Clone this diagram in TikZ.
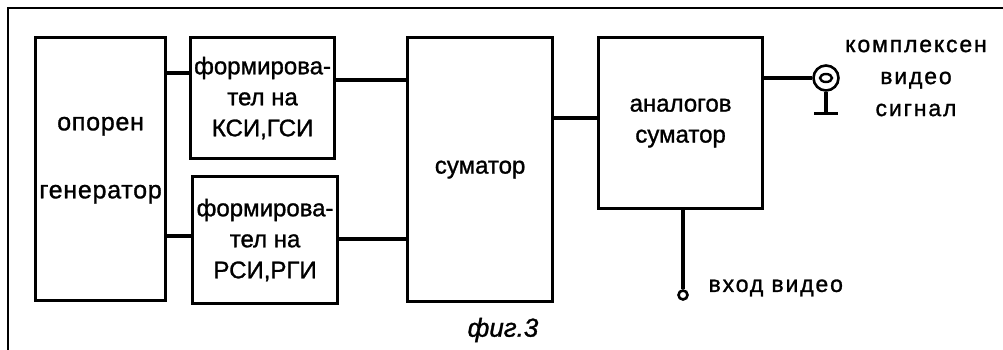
\documentclass[tikz,border=0pt]{standalone}
\usepackage{fontspec}
\setmainfont[FakeBold=1.2]{Liberation Sans}
\usetikzlibrary{positioning}
\begin{document}
\begin{tikzpicture}[x=1pt, y=-1pt, line width=3.2pt,
        block/.style={draw, anchor=north west, align=center, font=\fontsize{24}{31}\selectfont, inner sep=0pt},
        lbl/.style={font=\fontsize{23}{32}\selectfont\addfontfeature{LetterSpace=8}, align=center, inner sep=0pt}]
        \useasboundingbox (0,0) rectangle (1003,350);
        \draw[line width=2pt] (8,350) -- (8,8) -- (1003,8);
        % blocks
        \node[block, minimum width=130pt, minimum height=263pt, text depth=23pt, font=\fontsize{25}{31}\selectfont\addfontfeature{LetterSpace=3}] (gen) at (34,36) {опорен\\[37pt]генератор};
        \node[block, minimum width=144pt, minimum height=121pt] (form1) at (189,36) {формирова-\\тел на\\КСИ,ГСИ};
        \node[block, minimum width=145pt, minimum height=127pt] (form2) at (191,175) {формирова-\\тел на\\РСИ,РГИ};
        \node[block, minimum width=145pt, minimum height=264pt] (sum) at (406,36) {суматор};
        \node[block, minimum width=164pt, minimum height=171pt] (an) at (597,36) {аналогов\\суматор};
        % wire levels
        \coordinate (w1) at (0,73);
        \coordinate (w2) at (0,236);
        \coordinate (w3) at (0,80);
        \coordinate (w4) at (0,239);
        \coordinate (w5) at (0,118);
        \draw (gen.east |- w1) -- (form1.west |- w1);
        \draw (gen.east |- w2) -- (form2.west |- w2);
        \draw (form1.east |- w3) -- (sum.west |- w3);
        \draw (form2.east |- w4) -- (sum.west |- w4);
        \draw (sum.east |- w5) -- (an.west |- w5);
        % output jack
        \node[circle, draw, line width=2.6pt, minimum size=25pt, inner sep=0pt] (jack) at (826,78) {};
        \draw (an.east |- jack) -- (jack.west);
        \draw[line width=2.4pt] (jack.center) ellipse (6pt and 4pt);
        \draw (jack.south) -- ++(0,22) coordinate (gnd);
        \draw ([xshift=-12pt]gnd) -- ([xshift=12pt]gnd);
        \node[lbl] (outtxt) at (916,78) {комплексен\\видео\\сигнал};
        % video input
        \node[circle, draw, line width=2.6pt, minimum size=9pt, inner sep=0pt] (vin) at (683,295) {};
        \draw (vin.north |- an.south) -- (vin.north);
        \node[lbl, anchor=west] (intxt) at (707,288) {вход видео};
        \node[font=\fontsize{26}{30}\selectfont\itshape, inner sep=0pt] (cap) at (503,330) {фиг.3};
    \end{tikzpicture}
\end{document}
